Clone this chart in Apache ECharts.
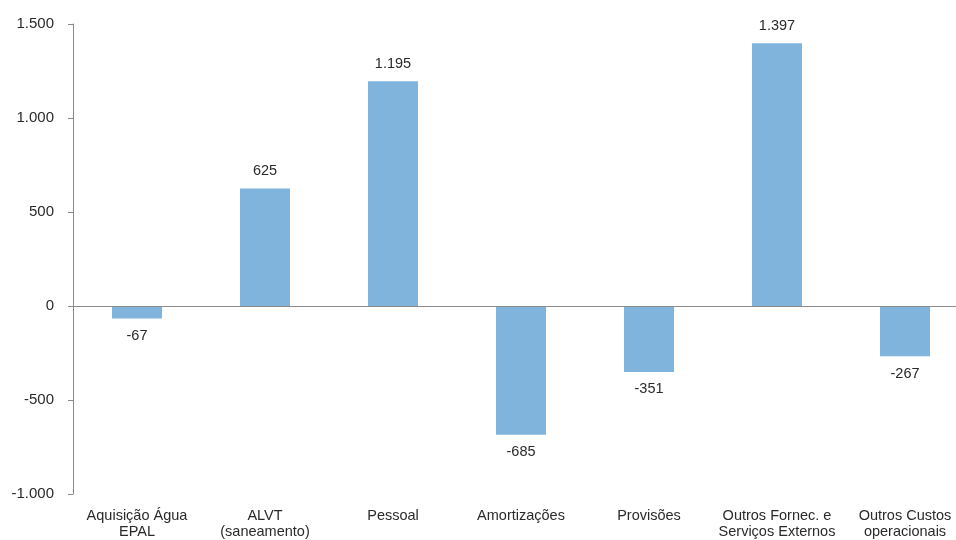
<!DOCTYPE html>
<html>
<head>
<meta charset="utf-8">
<script src="https://cdn.jsdelivr.net/npm/echarts@6/dist/echarts.min.js"></script>
<style>
  html, body { margin: 0; padding: 0; background: #fff; overflow: hidden; }
  #chart { width: 956px; height: 540px; }
</style>
</head>
<body>
<div id="chart"></div>
<script>
// Variação dos custos por rubrica (milhares de euros)
const categories = [
  'Aquisição Água\nEPAL',
  'ALVT\n(saneamento)',
  'Pessoal',
  'Amortizações',
  'Provisões',
  'Outros Fornec. e\nServiços Externos',
  'Outros Custos\noperacionais'
];
const values = [-67, 625, 1195, -685, -351, 1397, -267];
const yTicks = { min: -1000, max: 1500, step: 500 };

// Portuguese thousands separator: 1500 -> "1.500"
function fmt(v) {
  const s = Math.abs(v).toString().replace(/\B(?=(\d{3})+(?!\d))/g, '.');
  return (v < 0 ? '-' : '') + s;
}

const chart = echarts.init(document.getElementById('chart'));
chart.setOption({
  animation: false,
  // the plot area runs past the right edge of the canvas, so the last band is cut
  grid: { left: 73, width: 896, top: 24, height: 470, outerBoundsMode: 'none', containLabel: false },
  xAxis: {
    type: 'category',
    data: categories,
    axisLine: { show: false },
    axisTick: { show: false },
    axisLabel: {
      interval: 0,
      color: '#2a2a2a',
      fontFamily: '"Liberation Sans", Arial, sans-serif',
      fontSize: 14.5,
      lineHeight: 16,
      margin: 14,
      hideOverlap: false
    }
  },
  yAxis: {
    type: 'value',
    min: yTicks.min,
    max: yTicks.max,
    interval: yTicks.step,
    axisLine: { show: true, lineStyle: { color: '#8a8a8a', width: 1 } },
    axisTick: { show: true, length: 5, lineStyle: { color: '#8a8a8a' } },
    splitLine: { show: false },
    axisLabel: {
      formatter: fmt,
      color: '#2a2a2a',
      fontFamily: '"Liberation Sans", Arial, sans-serif',
      fontSize: 15,
      margin: 19
    }
  },
  series: [{
    type: 'bar',
    data: values.map(v => ({
      value: v,
      label: { position: v >= 0 ? 'top' : 'bottom' }
    })),
    barWidth: 50,
    itemStyle: { color: '#80b4dc' },
    label: {
      show: true,
      formatter: p => fmt(p.value),
      color: '#2a2a2a',
      fontFamily: '"Liberation Sans", Arial, sans-serif',
      fontSize: 14.5,
      distance: 10
    },
    markLine: {
      silent: true,
      symbol: 'none',
      label: { show: false },
      lineStyle: { color: '#8a8a8a', type: 'solid', width: 1 },
      data: [{ yAxis: 0 }]
    }
  }]
});
</script>
</body>
</html>
